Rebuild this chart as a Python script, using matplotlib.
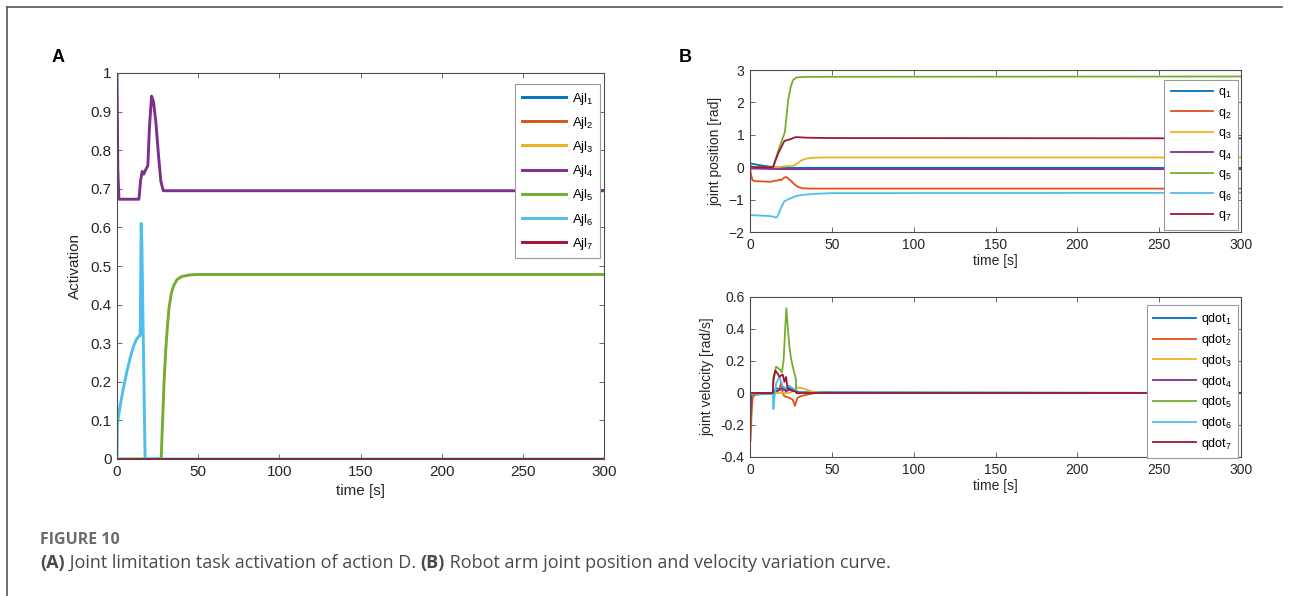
import matplotlib
matplotlib.use("Agg")
import matplotlib.pyplot as plt
from matplotlib.lines import Line2D

plt.rcParams['font.family'] = ['Liberation Sans', 'DejaVu Sans']
plt.rcParams['mathtext.default'] = 'regular'

# MATLAB default line colours
colors = ['#0072BD', '#D95319', '#EDB120', '#7E2F8E', '#77AC30', '#4DBEEE', '#A2142F']

# ---- panel A: joint limitation task activation ----
ajl1_t = [0, 300]
ajl1 = [0, 0]
ajl2_t = [0, 300]
ajl2 = [0, 0]
ajl3_t = [0, 300]
ajl3 = [0, 0]
ajl4_t = [0, 0.5, 1.2, 13.5, 14.5, 15.5, 16.5, 17.5, 19, 20, 21.3, 22.5, 24, 25.5, 27, 28.5, 300]
ajl4 = [1.0, 0.75, 0.673, 0.673, 0.72, 0.745, 0.738, 0.748, 0.76, 0.86, 0.94, 0.925, 0.87, 0.79, 0.72, 0.695, 0.695]
ajl5_t = [0, 27.2, 28, 29, 30, 31, 32, 33.5, 35, 37, 40, 45, 50, 300]
ajl5 = [0, 0, 0.09, 0.2, 0.28, 0.34, 0.39, 0.43, 0.45, 0.465, 0.473, 0.477, 0.478, 0.478]
ajl6_t = [0, 0.2, 2, 4, 6, 8, 10, 12, 13.9, 14.3, 14.9, 15.3, 17.3, 300]
ajl6 = [0, 0.09, 0.14, 0.185, 0.225, 0.26, 0.29, 0.31, 0.32, 0.32, 0.61, 0.56, 0, 0]
ajl7_t = [0, 300]
ajl7 = [0, 0]

# ---- panel B top: joint positions [rad] ----
q1_t = [0, 5, 10, 15, 20, 30, 300]
q1 = [0.12, 0.07, 0.03, 0.0, -0.02, -0.02, -0.02]
q2_t = [0, 0.5, 1.5, 3, 8, 13, 15, 17, 18, 19, 20, 21, 22, 23, 25, 27, 29, 32, 36, 300]
q2 = [0, -0.2, -0.4, -0.43, -0.44, -0.45, -0.42, -0.41, -0.38, -0.4, -0.36, -0.32, -0.3, -0.33, -0.42, -0.52, -0.6, -0.65, -0.66, -0.66]
q3_t = [0, 14, 20, 27, 29, 31, 34, 38, 45, 300]
q3 = [-0.03, -0.02, 0.02, 0.05, 0.12, 0.2, 0.26, 0.29, 0.3, 0.3]
q4_t = [0, 10, 20, 300]
q4 = [-0.04, -0.05, -0.06, -0.06]
q5_t = [0, 14.2, 17.5, 21.3, 23.3, 25, 26.3, 28.3, 35, 300]
q5 = [0, 0, 0.55, 1.08, 2.07, 2.5, 2.69, 2.77, 2.79, 2.8]
q6_t = [0, 10, 14, 15.8, 17, 19, 21, 24, 28, 33, 40, 50, 300]
q6 = [-1.48, -1.5, -1.52, -1.56, -1.5, -1.25, -1.05, -0.98, -0.89, -0.85, -0.82, -0.8, -0.79]
q7_t = [0, 3, 14, 17, 21, 25, 28, 35, 50, 300]
q7 = [0.03, 0.0, 0.0, 0.4, 0.81, 0.87, 0.93, 0.91, 0.9, 0.89]

# ---- panel B bottom: joint velocities [rad/s] ----
qd1_t = [0, 1, 14, 16, 20, 24, 26, 30, 300]
qd1 = [-0.02, -0.01, -0.005, 0.03, 0.02, 0.03, 0.02, 0.005, 0]
qd2_t = [0, 0.3, 1.0, 1.6, 3, 14, 16, 18, 19, 20, 21, 24, 26, 27.5, 28, 29, 31, 35, 40, 300]
qd2 = [-0.3, -0.3, -0.12, -0.03, -0.01, 0, 0.01, 0.02, 0.07, 0.0, -0.02, -0.03, -0.04, -0.08, -0.06, -0.03, -0.02, -0.01, 0, 0]
qd3_t = [0, 24, 26, 29, 32, 36, 40, 45, 300]
qd3 = [0, 0, 0.01, 0.035, 0.03, 0.015, 0.005, 0, 0]
qd4_t = [0, 0.2, 0.8, 1.5, 14, 16, 18, 20, 22, 24, 28, 30, 300]
qd4 = [-0.16, -0.16, -0.02, 0, 0, 0.01, 0.02, 0.03, 0.01, 0.02, 0.01, 0, 0]
qd5_t = [0, 14, 14.3, 16, 18, 19.5, 20.5, 21.5, 22.2, 23, 24, 25, 26, 27, 28, 28.3, 300]
qd5 = [0, 0, 0.1, 0.165, 0.15, 0.13, 0.2, 0.4, 0.53, 0.42, 0.3, 0.22, 0.17, 0.13, 0.09, 0, 0]
qd6_t = [0, 2, 14, 14.3, 15, 16, 18, 20, 22, 24, 26, 28, 28.5, 300]
qd6 = [-0.01, -0.005, -0.005, -0.1, -0.02, 0.06, 0.1, 0.04, 0.03, 0.045, 0.03, 0.02, 0, 0]
qd7_t = [0, 14, 14.3, 15.5, 17, 18, 19, 20, 21, 22, 23, 25, 27, 28, 28.5, 300]
qd7 = [0, 0, 0.08, 0.14, 0.12, 0.1, 0.11, 0.115, 0.07, 0.1, 0.03, 0.02, 0.01, 0.01, 0, 0]

W, H = 1291, 596
fig = plt.figure(figsize=(W / 100, H / 100), dpi=100)

def px_axes(x0, y0, x1, y1):
    return fig.add_axes([x0 / W, 1 - y1 / H, (x1 - x0) / W, (y1 - y0) / H])

def matlab_style(ax, fs):
    for s in ax.spines.values():
        s.set_color('#4d4d4d')
        s.set_linewidth(0.8)
    ax.tick_params(direction='in', top=True, right=True, length=3.5, width=0.6,
                   color='#4d4d4d', labelcolor='#262626', labelsize=fs, pad=4)

def fmt(v):
    s = ('%.1f' % v).rstrip('0').rstrip('.')
    return '0' if s in ('-0', '') else s

def add_legend(ax, handles, labels, anchor, fs, spacing):
    leg = ax.legend(handles, labels, loc='upper right', bbox_to_anchor=anchor,
                    borderaxespad=0, fancybox=False, framealpha=1, fontsize=fs,
                    handlelength=3.4, handletextpad=0.4, labelspacing=spacing,
                    borderpad=0.5, edgecolor='#9a9a9a')
    leg.get_frame().set_linewidth(0.8)
    return leg

# panel A
axA = px_axes(117, 73, 604, 459)
A_series = [(ajl1_t, ajl1), (ajl2_t, ajl2), (ajl3_t, ajl3), (ajl4_t, ajl4),
            (ajl5_t, ajl5), (ajl6_t, ajl6), (ajl7_t, ajl7)]
for (t, v), c in zip(A_series, colors):
    axA.plot(t, v, color=c, lw=2.1, solid_joinstyle='round')
axA.set_xlim(0, 300)
axA.set_ylim(0, 1)
axA.set_xticks(range(0, 301, 50))
yt = [i / 10 for i in range(11)]
axA.set_yticks(yt)
axA.set_yticklabels([fmt(v) for v in yt])
matlab_style(axA, 11)
axA.set_xlabel('time [s]', fontsize=11, color='#262626', labelpad=4)
axA.set_ylabel('Activation', fontsize=11, color='#262626', labelpad=6)
hA = [Line2D([], [], color=c, lw=2.1) for c in colors]
add_legend(axA, hA, ['Ajl$_{%d}$' % i for i in range(1, 8)], (0.992, 0.9715), 9.5, 0.62)

# panel B top
axB1 = px_axes(750, 70, 1241, 232)
for (t, v), c in zip([(q1_t, q1), (q2_t, q2), (q3_t, q3), (q4_t, q4),
                      (q5_t, q5), (q6_t, q6), (q7_t, q7)], colors):
    axB1.plot(t, v, color=c, lw=1.3)
axB1.set_xlim(0, 300)
axB1.set_ylim(-2, 3)
axB1.set_xticks(range(0, 301, 50))
axB1.set_yticks(range(-2, 4))
matlab_style(axB1, 10)
axB1.set_xlabel('time [s]', fontsize=10, color='#262626', labelpad=2)
axB1.set_ylabel('joint position [rad]', fontsize=10, color='#262626', labelpad=4)
hB = [Line2D([], [], color=c, lw=1.3) for c in colors]
add_legend(axB1, hB, ['q$_{%d}$' % i for i in range(1, 8)], (0.994, 0.938), 9, 0.52)

# panel B bottom
axB2 = px_axes(750, 297, 1241, 457)
for (t, v), c in zip([(qd1_t, qd1), (qd2_t, qd2), (qd3_t, qd3), (qd4_t, qd4),
                      (qd5_t, qd5), (qd6_t, qd6), (qd7_t, qd7)], colors):
    axB2.plot(t, v, color=c, lw=1.3)
axB2.set_xlim(0, 300)
axB2.set_ylim(-0.4, 0.6)
axB2.set_xticks(range(0, 301, 50))
yt2 = [-0.4, -0.2, 0, 0.2, 0.4, 0.6]
axB2.set_yticks(yt2)
axB2.set_yticklabels([fmt(v) for v in yt2])
matlab_style(axB2, 10)
axB2.set_xlabel('time [s]', fontsize=10, color='#262626', labelpad=2)
axB2.set_ylabel('joint velocity [rad/s]', fontsize=10, color='#262626', labelpad=4)
add_legend(axB2, hB, ['qdot$_{%d}$' % i for i in range(1, 8)], (0.994, 0.95), 9, 0.38)

# panel letters
fig.text(58 / W, 1 - 58 / H, 'A', fontsize=13, fontweight='bold', ha='center', va='center')
fig.text(685 / W, 1 - 58 / H, 'B', fontsize=13, fontweight='bold', ha='center', va='center')

# page frame (top and left rules)
fig.add_artist(Line2D([7 / W, 1282 / W], [1 - 7 / H, 1 - 7 / H], color='#555555', lw=1.2))
fig.add_artist(Line2D([7 / W, 7 / W], [0, 1 - 7 / H], color='#555555', lw=1.2))

# caption
cap_font = ['Open Sans', 'DejaVu Sans']
fig.text(40 / W, 1 - 540 / H, 'FIGURE 10', fontsize=11.5, fontweight='bold',
         color='#6b6b6b', family=cap_font, va='center')
renderer = fig.canvas.get_renderer()
x = 40 / W
pieces = [('(A)', 'bold'), (' Joint limitation task activation of action D. ', 'normal'),
          ('(B)', 'bold'), (' Robot arm joint position and velocity variation curve.', 'normal')]
for txt, wt in pieces:
    t = fig.text(x, 1 - 563 / H, txt, fontsize=13, fontweight=wt, color='#4a4a4a',
                 family=cap_font, va='center')
    bb = t.get_window_extent(renderer=renderer)
    x += bb.width / W

fig.savefig('out.png', dpi=100)
